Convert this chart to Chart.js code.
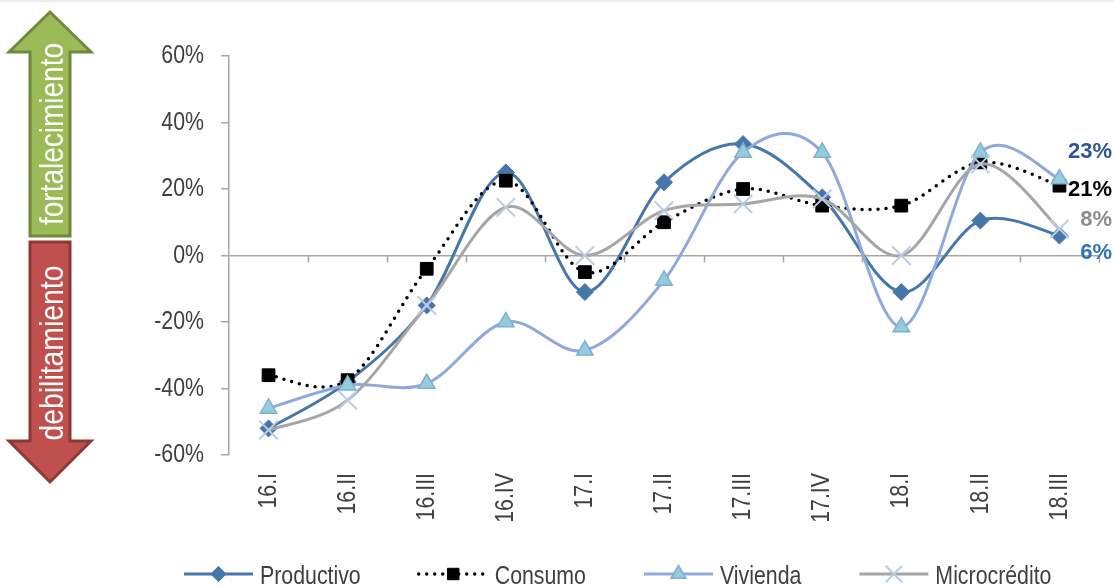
<!DOCTYPE html>
<html lang="es">
<head>
<meta charset="utf-8">
<title>Crecimiento de cartera por tipo de crédito</title>
<script src="https://cdn.jsdelivr.net/npm/chart.js@4.4.1/dist/chart.umd.min.js"></script>
<style>
    html, body { margin: 0; padding: 0; background: #fff; }
    #lienzo { position: relative; width: 1114px; height: 586px; overflow: hidden; }
    #franja { position: absolute; left: 0; top: 0; width: 1114px; height: 2px; background: #ececec; }
    #grafico { position: absolute; left: 0; top: 0; }
    #flechas { position: absolute; left: 0; top: 0; }
    #flechas text { font-family: "Liberation Sans", Arial, sans-serif; font-size: 34px; fill: #fff; }
</style>
</head>
<body>
<div id="lienzo">
    <div id="franja"></div>
    <canvas id="grafico" width="1114" height="586"></canvas>
    <svg id="flechas" width="100" height="500" viewBox="0 0 100 500">
        <polygon points="50,12 91,52 70,52 70,236 30,236 30,52 9,52" fill="#9BBB59" stroke="#71893F" stroke-width="3" stroke-linejoin="miter"/>
        <text x="0" y="13" transform="translate(50,134) rotate(-90)" text-anchor="middle" textLength="182" lengthAdjust="spacingAndGlyphs">fortalecimiento</text>
        <polygon points="30,242 70,242 70,441 91,441 50,482 9,441 30,441" fill="#C0504D" stroke="#8C3836" stroke-width="3" stroke-linejoin="miter"/>
        <text x="0" y="13" transform="translate(50,353) rotate(-90)" text-anchor="middle" textLength="175" lengthAdjust="spacingAndGlyphs">debilitamiento</text>
    </svg>
</div>
<script>
// Trimestres y variación anual por tipo de crédito (%)
const trimestres = ['16.I', '16.II', '16.III', '16.IV', '17.I', '17.II', '17.III', '17.IV', '18.I', '18.II', '18.III'];
const productivo = [-52, -38, -15, 25, -11, 22, 33.5, 17.5, -11, 10.5, 6];
const consumo = [-36, -37.5, -4, 22.5, -5, 10, 20, 15, 15, 28, 21];
const vivienda = [-46, -39, -38.5, -20, -28.5, -7.5, 31, 31, -21.5, 31, 23];
const microcredito = [-52.5, -43.5, -15, 14.5, 0, 13.5, 15.5, 17, 0, 27.5, 8];
const ejeMin = -60, ejeMax = 60, ejePaso = 20;

const fuenteNormal = '"Liberation Sans", Arial, sans-serif';
const angosto = 0.82; // compresión horizontal del texto (aspecto de Arial Narrow)

// Texto angosto: se comprime en el sentido de la escritura
function textoAngosto(ctx, texto, x, y, rot, align) {
    ctx.save();
    ctx.translate(x, y);
    if (rot) ctx.rotate(rot);
    ctx.scale(angosto, 1);
    ctx.textAlign = align;
    ctx.fillText(texto, 0, 0);
    ctx.restore();
}

// Curvas suavizadas al estilo de una hoja de cálculo: tangente = (siguiente - anterior) / 6
const curvaSuave = {
    id: 'curvaSuave',
    afterDatasetUpdate(chart, args) {
        const meta = args.meta;
        const pts = meta.data;
        for (let i = 0; i < pts.length; i++) {
            const p = pts[i];
            const a = pts[i - 1] || p;
            const b = pts[i + 1] || p;
            const dx = (b.x - a.x) / 6;
            const dy = (b.y - a.y) / 6;
            p.cp1x = p.x - dx; p.cp1y = p.y - dy;
            p.cp2x = p.x + dx; p.cp2y = p.y + dy;
        }
        if (meta.dataset) meta.dataset._pointsUpdated = true;
    }
};

// Marcas de separación de trimestres sobre la línea del 0% y rótulos de ambos ejes
const ejesAngostos = {
    id: 'ejesAngostos',
    beforeDatasetsDraw(chart) {
        const { ctx, scales: { x, y } } = chart;
        const y0 = y.getPixelForValue(0);
        ctx.save();
        ctx.strokeStyle = '#A6A6A6';
        ctx.lineWidth = 1.5;
        ctx.beginPath();
        for (let i = 1; i <= trimestres.length; i++) {
            const px = Math.round(x.getPixelForValue(i - 0.5)) + 0.5;
            ctx.moveTo(px, y0);
            ctx.lineTo(px, y0 + 7);
        }
        ctx.stroke();

        ctx.fillStyle = '#404040';
        ctx.textBaseline = 'middle';
        ctx.font = '26px ' + fuenteNormal;
        y.ticks.forEach(t => {
            textoAngosto(ctx, t.value + '%', y.right - 8 - 17, y.getPixelForValue(t.value), 0, 'right');
        });
        x.ticks.forEach((t, i) => {
            textoAngosto(ctx, trimestres[i], x.getPixelForTick(i), x.top + 18, -Math.PI / 2, 'right');
        });
        ctx.restore();
    }
};

// Etiquetas del último trimestre a la derecha del gráfico
const etiquetasFinales = {
    id: 'etiquetasFinales',
    afterDatasetsDraw(chart) {
        const ctx = chart.ctx;
        ctx.save();
        ctx.font = 'bold 22px ' + fuenteNormal;
        ctx.textAlign = 'right';
        ctx.textBaseline = 'middle';
        chart.data.datasets.forEach((ds, i) => {
            const meta = chart.getDatasetMeta(i);
            const ultimo = meta.data[meta.data.length - 1];
            const valor = ds.data[ds.data.length - 1];
            ctx.fillStyle = ds.colorEtiqueta;
            ctx.fillText(Math.round(valor) + '%', chart.width - 2, ultimo.y + ds.desplazEtiqueta);
        });
        ctx.restore();
    }
};

// Leyenda inferior con línea y marcador de cada serie
const leyendaInferior = {
    id: 'leyendaInferior',
    afterDraw(chart) {
        const ctx = chart.ctx;
        const yLinea = 574;
        let x = chart.chartArea.left - 45;
        ctx.save();
        ctx.font = '26px ' + fuenteNormal;
        chart.data.datasets.forEach(ds => {
            ctx.save();
            ctx.strokeStyle = ds.borderColor;
            ctx.lineWidth = ds.borderWidth;
            ctx.setLineDash(ds.borderDash || []);
            ctx.lineCap = ds.borderCapStyle || 'butt';
            ctx.beginPath();
            ctx.moveTo(x, yLinea);
            ctx.lineTo(x + 69, yLinea);
            ctx.stroke();
            ctx.restore();

            ctx.save();
            ctx.fillStyle = ds.pointBackgroundColor;
            ctx.strokeStyle = ds.pointBorderColor;
            ctx.lineWidth = ds.pointBorderWidth;
            Chart.helpers.drawPoint(ctx, {
                pointStyle: ds.pointStyle,
                radius: ds.pointRadius * 0.9,
                rotation: 0,
                borderWidth: ds.pointBorderWidth
            }, x + 34.5, yLinea);
            ctx.restore();

            ctx.fillStyle = '#404040';
            ctx.textBaseline = 'alphabetic';
            textoAngosto(ctx, ds.label, x + 76, 584, 0, 'left');
            x += 76 + ctx.measureText(ds.label).width * angosto + 58;
        });
        ctx.restore();
    }
};

const datasets = [
    {
        label: 'Productivo',
        data: productivo,
        borderColor: '#4677AA',
        borderWidth: 3,
        pointStyle: 'rectRot',
        pointRadius: 8.5,
        pointBackgroundColor: '#4677AA',
        pointBorderColor: '#4677AA',
        pointBorderWidth: 1,
        colorEtiqueta: '#2E75B6',
        desplazEtiqueta: 17,
        order: 4
    },
    {
        label: 'Consumo',
        data: consumo,
        borderColor: '#000000',
        borderWidth: 3.5,
        borderDash: [0, 8],
        borderCapStyle: 'round',
        pointStyle: 'rect',
        pointRadius: 9,
        pointBackgroundColor: '#000000',
        pointBorderColor: '#000000',
        pointBorderWidth: 1,
        colorEtiqueta: '#000000',
        desplazEtiqueta: 4,
        order: 3
    },
    {
        label: 'Vivienda',
        data: vivienda,
        borderColor: '#8EA9DB',
        borderWidth: 3,
        pointStyle: 'triangle',
        pointRadius: 9.5,
        pointBackgroundColor: '#93CDDD',
        pointBorderColor: '#7FAFD0',
        pointBorderWidth: 1.5,
        colorEtiqueta: '#2F5597',
        desplazEtiqueta: -27,
        order: 2
    },
    {
        label: 'Microcrédito',
        data: microcredito,
        borderColor: '#A6A6A6',
        borderWidth: 3,
        pointStyle: 'crossRot',
        pointRadius: 13,
        pointBackgroundColor: '#B9CDE5',
        pointBorderColor: '#B9CDE5',
        pointBorderWidth: 2,
        colorEtiqueta: '#8C8C8C',
        desplazEtiqueta: -9,
        order: 1
    }
];

new Chart(document.getElementById('grafico'), {
    type: 'line',
    data: { labels: trimestres, datasets: datasets },
    options: {
        responsive: false,
        animation: false,
        devicePixelRatio: 1,
        clip: false,
        layout: { padding: { top: 56, right: 14, bottom: 0, left: 0 } },
        elements: { line: { tension: 0.4, fill: false } },
        plugins: {
            legend: { display: false },
            tooltip: { enabled: false }
        },
        scales: {
            x: {
                offset: true,
                grid: { display: false, drawTicks: false },
                border: { display: false },
                ticks: { display: false, autoSkip: false },
                afterFit(scale) { scale.height = 131; }
            },
            y: {
                min: ejeMin,
                max: ejeMax,
                grid: {
                    color: ctx => (ctx.tick && ctx.tick.value === 0 ? '#A6A6A6' : 'rgba(0,0,0,0)'),
                    lineWidth: 1.5,
                    tickColor: '#A6A6A6',
                    tickLength: 8
                },
                border: { color: '#A6A6A6', width: 1.5 },
                ticks: { display: false, stepSize: ejePaso },
                afterFit(scale) { scale.width = 229; }
            }
        }
    },
    plugins: [curvaSuave, ejesAngostos, etiquetasFinales, leyendaInferior]
});
</script>
</body>
</html>
